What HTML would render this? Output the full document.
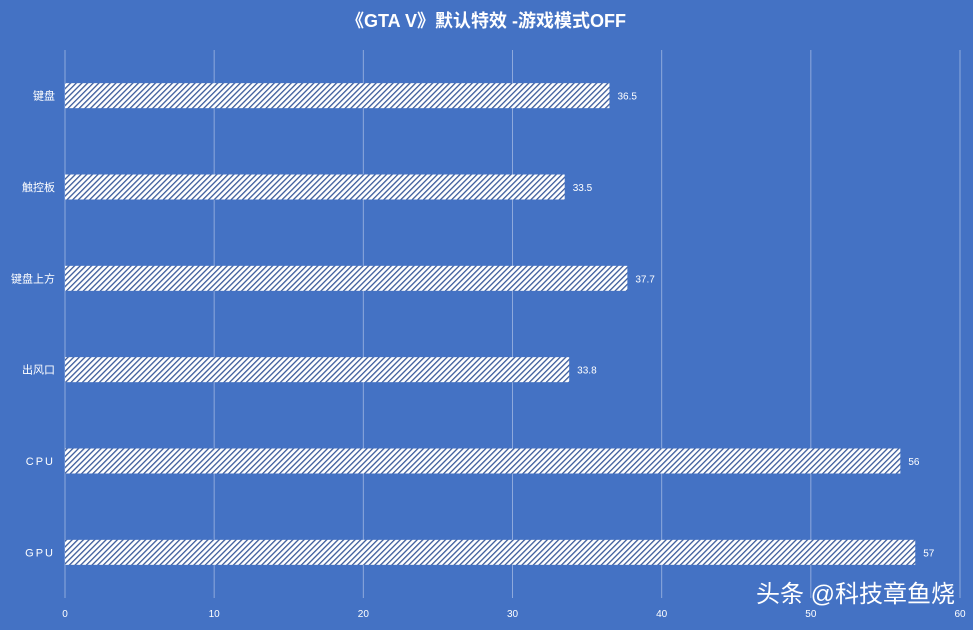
<!DOCTYPE html>
<html><head><meta charset="utf-8"><style>
body{margin:0;background:#4472c4;}
svg text{font-family:"Liberation Sans","Noto Sans CJK SC",sans-serif;fill:#fff;}
</style></head><body>
<svg id="c" width="973" height="625">
<defs><pattern id="h" patternUnits="userSpaceOnUse" width="4" height="4" patternTransform="rotate(45)">
<rect width="4" height="4" fill="#fff"/><rect width="1.3" height="4" fill="#3a5a9a"/></pattern></defs>
<rect width="973" height="625" fill="#4472c4"/>
<text x="486" y="27" font-size="18" font-weight="bold" text-anchor="middle">《GTA V》默认特效 -游戏模式OFF</text>
<g id="grid"></g><g id="bars"></g>
<text x="955" y="602" font-size="24" text-anchor="end">头条 @科技章鱼烧</text>
</svg>
<script>
const categories=["键盘","触控板","键盘上方","出风口","CPU","GPU"];
const values=[36.5,33.5,37.7,33.8,56,57];
const ticks=[0,10,20,30,40,50,60];
const NS="http://www.w3.org/2000/svg";
const x0=65,x1=960,yTop=50,yBot=598,max=60;
const xs=v=>x0+(v/max)*(x1-x0);
const band=(yBot-yTop)/categories.length;
const g=document.getElementById('grid'),b=document.getElementById('bars');
function mk(t,a,p){const e=document.createElementNS(NS,t);for(const k in a)e.setAttribute(k,a[k]);p.appendChild(e);return e;}
ticks.forEach(t=>{
 const l=mk('line',{x1:xs(t),x2:xs(t),y1:yTop,y2:yBot,stroke:'#8ea9dc','stroke-width':1},g);
 
 
 const tx=mk('text',{x:xs(t),y:617,'font-size':10,'text-anchor':'middle'},g);tx.textContent=t;
 
 
});
categories.forEach((c,i)=>{
 const cy=yTop+band*(i+0.5);
 const r=mk('rect',{x:x0,y:cy-12.5,width:xs(values[i])-x0,height:25,fill:'url(#h)'},b);
 
 
 const l=mk('text',{x:55,y:cy+4,'font-size':11,'text-anchor':'end','letter-spacing':/[A-Z]/.test(c)?2:0},b);l.textContent=c;
 
 
 const v=mk('text',{x:xs(values[i])+8,y:cy+4,'font-size':10},b);v.textContent=values[i];
 
 
});
</script>
</body></html>
